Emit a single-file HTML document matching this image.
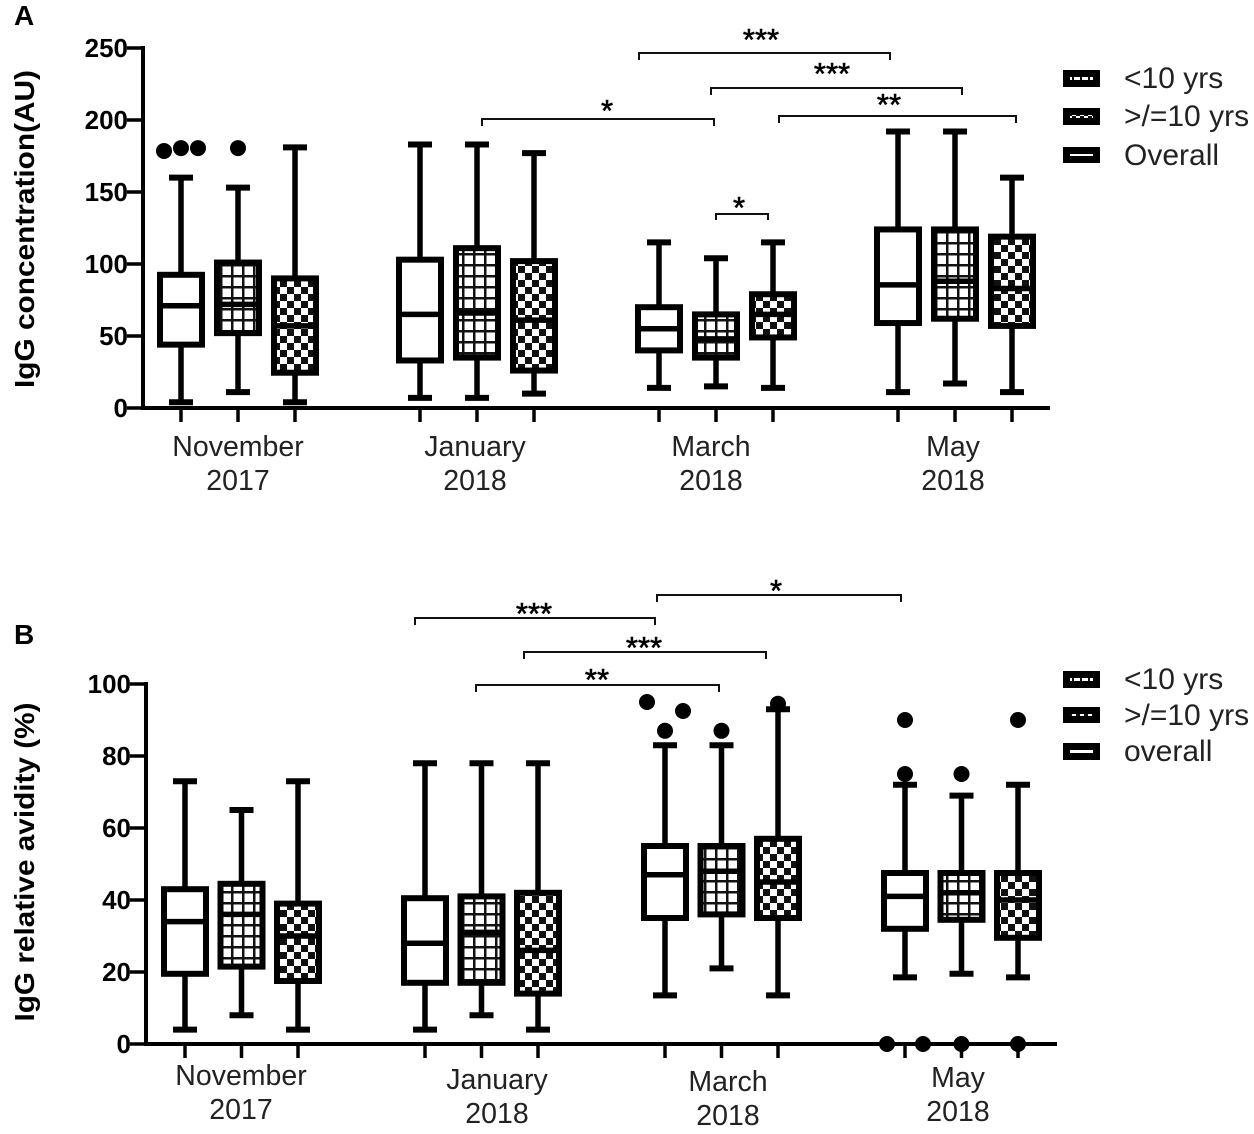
<!DOCTYPE html>
<html>
<head>
<meta charset="utf-8">
<title>IgG concentration and relative avidity box plots</title>
<style>
html,body{margin:0;padding:0;background:#fff;}
svg{display:block;font-family:"Liberation Sans",sans-serif;fill:#111;}
.tick-label{font-size:26px;font-weight:bold;text-anchor:end;fill:#000;}
.cat{font-size:28.5px;text-anchor:middle;fill:#222;}
.legend{font-size:30px;fill:#222;}
.title{font-size:28px;font-weight:bold;text-anchor:middle;fill:#000;}
.star{font-size:31px;text-anchor:middle;fill:#000;stroke:#000;stroke-width:.6;}
.letter{font-size:28px;font-weight:bold;fill:#000;}
.br{fill:none;stroke:#111;stroke-width:2;}
</style>
</head>
<body>
<svg id="chart" xmlns="http://www.w3.org/2000/svg" width="1254" height="1134" viewBox="0 0 1254 1134">
  <defs>
    <pattern id="grid" patternUnits="userSpaceOnUse" width="11" height="11">
      <rect width="11" height="11" fill="#fff"/>
      <rect x="0" y="0" width="2.5" height="11" fill="#111"/>
      <rect x="0" y="0" width="11" height="2.5" fill="#111"/>
    </pattern>
    <pattern id="check" patternUnits="userSpaceOnUse" width="14" height="14">
      <rect width="14" height="14" fill="#fff"/>
      <rect x="0" y="0" width="7" height="7" fill="#111"/>
      <rect x="7" y="7" width="7" height="7" fill="#111"/>
    </pattern>
    <pattern id="lg-grid" patternUnits="userSpaceOnUse" width="8" height="8">
      <rect width="8" height="8" fill="#fff"/>
      <rect x="0" y="0" width="2" height="8" fill="#111"/>
    </pattern>
    <pattern id="lg-check" patternUnits="userSpaceOnUse" width="8" height="8">
      <rect width="8" height="8" fill="#fff"/>
      <rect x="0" y="4" width="4" height="4" fill="#111"/>
      <rect x="4" y="0" width="4" height="4" fill="#111"/>
    </pattern>
  </defs>

  <text class="letter" x="14" y="25">A</text>
  <text class="letter" x="14" y="644">B</text>

  <text class="title" transform="translate(34,229) rotate(-90)" textLength="318" lengthAdjust="spacingAndGlyphs">IgG concentration(AU)</text>
  <text class="title" transform="translate(34,862) rotate(-90)" textLength="319" lengthAdjust="spacingAndGlyphs">IgG relative avidity (%)</text>

  <g>
    <path class="br" d="M639 60V53H890V60"/>
    <text class="star" x="761" y="50">***</text>
    <path class="br" d="M711 95V88H962V95"/>
    <text class="star" x="832" y="84">***</text>
    <path class="br" d="M482 126V119H714V126"/>
    <text class="star" x="607" y="121">*</text>
    <path class="br" d="M779 123V116H1016V123"/>
    <text class="star" x="889" y="115">**</text>
    <path class="br" d="M716 220V214H768V220"/>
    <text class="star" x="739" y="218">*</text>
  </g>
  <g>
    <path class="br" d="M415 625V618H655V625"/>
    <text class="star" x="534" y="624">***</text>
    <path class="br" d="M657 602V595H901V602"/>
    <text class="star" x="776" y="601">*</text>
    <path class="br" d="M524 659V652H766V659"/>
    <text class="star" x="644" y="658">***</text>
    <path class="br" d="M476 692V685H719V692"/>
    <text class="star" x="597" y="690">**</text>
  </g>

  <g>
    <rect x="1066.5" y="73.5" width="30" height="10" fill="url(#lg-grid)" stroke="#000" stroke-width="7"/>
    <text class="legend" x="1124" y="88">&lt;10 yrs</text>
    <rect x="1066.5" y="111.5" width="30" height="10" fill="url(#lg-check)" stroke="#000" stroke-width="7"/>
    <text class="legend" x="1124" y="126">&gt;/=10 yrs</text>
    <rect x="1066.5" y="150.5" width="30" height="9" fill="#fff" stroke="#000" stroke-width="7"/>
    <text class="legend" x="1124" y="165">Overall</text>
  </g>
  <g>
    <rect x="1066.5" y="674.5" width="30" height="10" fill="url(#lg-grid)" stroke="#000" stroke-width="7"/>
    <text class="legend" x="1124" y="689">&lt;10 yrs</text>
    <rect x="1066.5" y="710.5" width="30" height="9" fill="url(#lg-check)" stroke="#000" stroke-width="7"/>
    <text class="legend" x="1124" y="725">&gt;/=10 yrs</text>
    <rect x="1066.5" y="746.5" width="30" height="10" fill="#fff" stroke="#000" stroke-width="7"/>
    <text class="legend" x="1124" y="761">overall</text>
  </g>
</svg>
<script>
// Categories (order: overall, <10 yrs, >=10 yrs within each month)
const months = ["November 2017", "January 2018", "March 2018", "May 2018"];
const seriesNames = ["overall", "under-10", "over-10"];

// Panel A: IgG concentration (AU)
const aTicks = [0, 50, 100, 150, 200, 250];
const aHigh = [160, 153, 181, 183, 183, 177, 115, 104, 115, 192, 192, 160];
const aQ3   = [92.5, 101, 90, 103, 111, 102, 70, 65, 79, 124, 124, 119];
const aMed  = [71, 72, 57, 65, 66, 61, 55, 48, 65, 85.5, 88, 83];
const aQ1   = [44, 52, 24.5, 33, 35, 26, 40, 35, 49, 59, 62, 57];
const aLow  = [4, 11, 4, 7, 7, 10, 14, 15, 14, 11, 17, 11];
const aOutliers = [[178.5, 180.5, 180.5], [180.5], [], [], [], [], [], [], [], [], [], []];

// Panel B: IgG relative avidity (%)
const bTicks = [0, 20, 40, 60, 80, 100];
const bHigh = [73, 65, 73, 78, 78, 78, 83, 83, 93, 72, 69, 72];
const bQ3   = [43, 44.5, 39, 40.5, 41, 42, 55, 55, 57, 47.5, 47.5, 47.5];
const bMed  = [34, 36, 30, 28, 31, 26, 47, 48, 45, 41, 42, 40];
const bQ1   = [19.5, 21.5, 17.5, 17, 17, 14, 35, 36, 35, 32, 34.5, 29.5];
const bLow  = [4, 8, 4, 4, 8, 4, 13.5, 21, 13.5, 18.5, 19.5, 18.5];
const bOutliers = [[], [], [], [], [], [], [95, 87, 92.5], [87], [94.5], [90, 75, 0, 0], [75, 0], [90, 0]];

const SVG_NS = "http://www.w3.org/2000/svg";
const root = document.getElementById("chart");

function make(parent, tag, attrs, text) {
  const el = document.createElementNS(SVG_NS, tag);
  for (const k in attrs) el.setAttribute(k, attrs[k]);
  if (text !== undefined) el.textContent = text;
  parent.appendChild(el);
  return el;
}

function drawPanel(p) {
  const y = v => p.y0 - (v / p.yMax) * (p.y0 - p.yTop);
  const x = i => p.x0 + Math.floor(i / 3) * p.groupStep + (i % 3) * p.boxStep;
  const panel = make(root, "g", {});
  
  

  const n = p.med.length;
  for (let i = 0; i < n; i++) {
    const cx = x(i);
    const sName = seriesNames[i % 3];
    const monthName = months[Math.floor(i / 3)].split(" ")[0].toLowerCase();
    const box = make(panel, "g", {});
    
    

    const whisker = make(box, "path", {
      d: `M${cx} ${y(p.high[i])}V${y(p.q3[i])}M${cx} ${y(p.q1[i])}V${y(p.low[i])}`,
      stroke: "#000", "stroke-width": 5.5, fill: "none"
    });
    
    

    const caps = make(box, "path", {
      d: `M${cx - p.capHalf} ${y(p.high[i])}H${cx + p.capHalf}M${cx - p.capHalf} ${y(p.low[i])}H${cx + p.capHalf}`,
      stroke: "#000", "stroke-width": 6, fill: "none"
    });
    
    

    const fills = ["#fff", "url(#grid)", "url(#check)"];
    const rect = make(box, "rect", {
      x: cx - p.boxW / 2, y: y(p.q3[i]), width: p.boxW, height: y(p.q1[i]) - y(p.q3[i]),
      fill: fills[i % 3], stroke: "#000", "stroke-width": 6
    });
    
    

    const median = make(box, "line", {
      x1: cx - p.boxW / 2, x2: cx + p.boxW / 2, y1: y(p.med[i]), y2: y(p.med[i]),
      stroke: "#000", "stroke-width": 5.5
    });
    
    

    // Outliers: values close together spread out sideways, as in a swarm
    const vals = p.outliers[i];
    vals.forEach((v, j) => {
      const cluster = vals.map((w, k) => k).filter(k => Math.abs(vals[k] - v) < p.swarm);
      const pos = cluster.length === 1 ? 0 : -1 + 2 * cluster.indexOf(j) / (cluster.length - 1);
      const dot = make(box, "circle", { cx: cx + pos * p.swarmStep, cy: y(v), r: 8, fill: "#000" });
      
      
    });

    const xt = make(panel, "line", { x1: cx, x2: cx, y1: p.y0, y2: p.y0 + 14, stroke: "#000", "stroke-width": 3.5 });
    
    
  }

  const yAxis = make(panel, "line", { x1: p.axisX, x2: p.axisX, y1: p.yTop - 2, y2: p.y0 + 2, stroke: "#000", "stroke-width": 4 });
  
  
  const xAxis = make(panel, "line", { x1: p.axisX, x2: p.axisEnd, y1: p.y0, y2: p.y0, stroke: "#000", "stroke-width": 4 });
  
  

  p.ticks.forEach(t => {
    const tk = make(panel, "line", { x1: p.axisX - 16, x2: p.axisX, y1: y(t), y2: y(t), stroke: "#000", "stroke-width": 3.5 });
    
    
    const lb = make(panel, "text", { class: "tick-label", x: p.axisX - 15, y: y(t) + 9 }, String(t));
    
    
  });

  months.forEach((m, g) => {
    const parts = m.split(" ");
    const lab = p.catLabels[g];
    const t1 = make(panel, "text", { class: "cat", x: lab[0], y: lab[1] }, parts[0]);
    
    
    const t2 = make(panel, "text", { class: "cat", x: lab[0], y: lab[1] + 34 }, parts[1]);
    
    
  });
}

drawPanel({
  name: "panel-a", y0: 408, yTop: 48, yMax: 250, ticks: aTicks,
  x0: 181, groupStep: 239, boxStep: 57, boxW: 42, capHalf: 12,
  axisX: 143, axisEnd: 1050, swarm: 10, swarmStep: 17,
  high: aHigh, q3: aQ3, med: aMed, q1: aQ1, low: aLow, outliers: aOutliers,
  catLabels: [[238, 456], [475, 456], [711, 456], [953, 456]]
});
drawPanel({
  name: "panel-b", y0: 1044, yTop: 684, yMax: 100, ticks: bTicks,
  x0: 185, groupStep: 240, boxStep: 56.5, boxW: 42, capHalf: 12,
  axisX: 146, axisEnd: 1057, swarm: 10, swarmStep: 18,
  high: bHigh, q3: bQ3, med: bMed, q1: bQ1, low: bLow, outliers: bOutliers,
  catLabels: [[241, 1085], [497, 1089], [728, 1091], [958, 1087]]
});
</script>
</body>
</html>
